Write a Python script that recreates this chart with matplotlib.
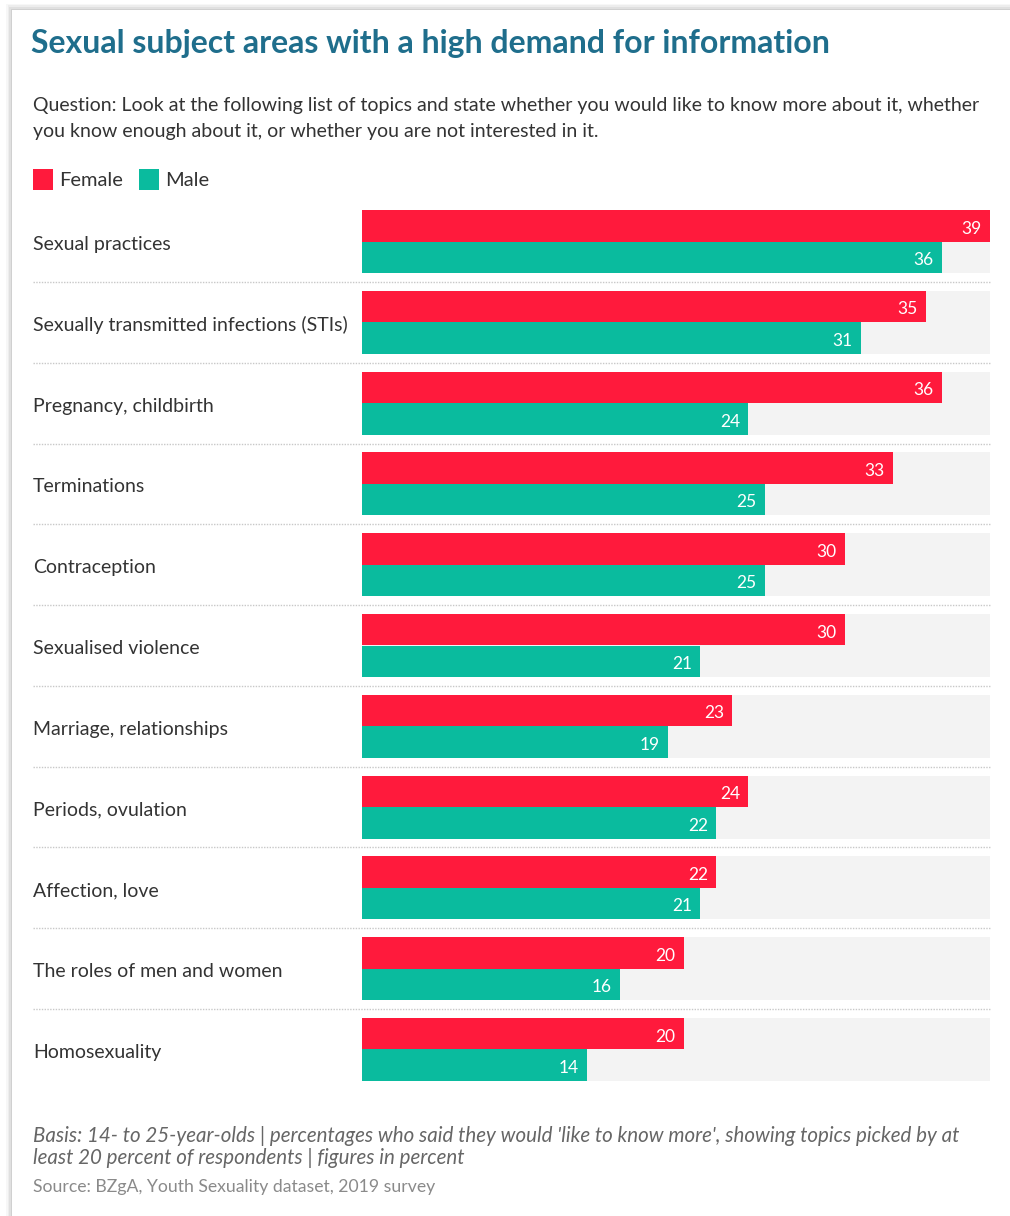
import numpy as np
import matplotlib.pyplot as plt
from matplotlib.patches import Rectangle
from matplotlib.transforms import blended_transform_factory, offset_copy

# Data (percent who would "like to know more")
categories = [
    "Sexual practices",
    "Sexually transmitted infections (STIs)",
    "Pregnancy, childbirth",
    "Terminations",
    "Contraception",
    "Sexualised violence",
    "Marriage, relationships",
    "Periods, ovulation",
    "Affection, love",
    "The roles of men and women",
    "Homosexuality",
]
female = [39, 35, 36, 33, 30, 30, 23, 24, 22, 20, 20]
male = [36, 31, 24, 25, 25, 21, 19, 22, 21, 16, 14]

RED = "#ff1a3c"
TEAL = "#0abb9e"
BG = "#f3f3f3"
TXT = "#333333"

W, H = 1010, 1216
fig = plt.figure(figsize=(W / 100, H / 100), dpi=100)
plt.rcParams["font.family"] = ["Lato", "DejaVu Sans"]


def fx(x):
    return x / W


def fy(y):
    return 1 - y / H


# card with soft shadow
for i, a in enumerate([0.03, 0.04, 0.05, 0.07]):
    d = 6 - i * 1.5
    fig.patches.append(Rectangle((fx(12 - d), fy(H + 20)), fx(W + 40), fy(10 - d) - fy(H + 20),
                                 transform=fig.transFigure, facecolor="black", alpha=a,
                                 edgecolor="none", zorder=0))
fig.patches.append(Rectangle((fx(12), fy(H + 20)), fx(W + 40), fy(10) - fy(H + 20),
                             transform=fig.transFigure, facecolor="white",
                             edgecolor="none", zorder=1))

# axes area for bars
top_px, bot_px = 210, 1081
ax = fig.add_axes([fx(362), fy(bot_px), fx(990) - fx(362), fy(top_px) - fy(bot_px)])
ax.set_zorder(2)
ax.patch.set_visible(False)

n = len(categories)
y = np.arange(n)
bh = 0.39
ax.set_xlim(0, 39)
ax.set_ylim(n - 1 + bh, -bh)

for yi in y:
    ax.axhspan(yi - bh, yi + bh, xmin=0, xmax=1, color=BG, lw=0, zorder=0)

ax.barh(y - bh / 2, female, height=bh, color=RED, zorder=2)
ax.barh(y + bh / 2, male, height=bh, color=TEAL, zorder=2)

for yi, f, m in zip(y, female, male):
    ax.annotate(str(f), (f, yi - bh / 2), xytext=(-6, -2), textcoords="offset points",
                ha="right", va="center", color="white", fontsize=12.5, zorder=3)
    ax.annotate(str(m), (m, yi + bh / 2), xytext=(-6, -2), textcoords="offset points",
                ha="right", va="center", color="white", fontsize=12.5, zorder=3)

# dotted separators between groups, extending under the labels
for yi in y[:-1]:
    ax.axhline(yi + 0.5, xmin=(33 - 362) / 628, xmax=1, color="#c8c8c8",
               linestyle=(0, (1, 1)), lw=1, clip_on=False, zorder=1)

# category labels on the left
lab_tr = offset_copy(blended_transform_factory(fig.transFigure, ax.transData),
                     fig=fig, y=-3, units="dots")
for yi, c in zip(y, categories):
    ax.text(fx(33), yi, c, transform=lab_tr, ha="left", va="center",
            fontsize=14, color=TXT)

ax.set_xticks([])
ax.set_yticks([])
for s in ax.spines.values():
    s.set_visible(False)

# title, question, legend
fig.text(fx(31), fy(44), "Sexual subject areas with a high demand for information",
         fontsize=23, fontweight="bold", color="#1f6e8c", va="center", ha="left",
         zorder=3)
fig.text(fx(33), fy(105), "Question: Look at the following list of topics and state whether you would like to know more about it, whether",
         fontsize=14, color=TXT, va="center", ha="left", zorder=3)
fig.text(fx(33), fy(132), "you know enough about it, or whether you are not interested in it.",
         fontsize=14, color=TXT, va="center", ha="left", zorder=3)

for x0, col, name in [(33, RED, "Female"), (139, TEAL, "Male")]:
    fig.patches.append(Rectangle((fx(x0), fy(190)), fx(20), fy(169) - fy(190),
                                 transform=fig.transFigure, facecolor=col,
                                 edgecolor="none", zorder=3))
    fig.text(fx(x0 + 26), fy(180), name, fontsize=14.5, color=TXT,
             va="center", ha="left", zorder=3)

# footer
fig.text(fx(33), fy(1136), "Basis: 14- to 25-year-olds | percentages who said they would 'like to know more', showing topics picked by at",
         fontsize=14.8, style="italic", color="#666666", va="center", ha="left", zorder=3)
fig.text(fx(33), fy(1158), "least 20 percent of respondents | figures in percent",
         fontsize=14.8, style="italic", color="#666666", va="center", ha="left", zorder=3)
fig.text(fx(33), fy(1187), "Source: BZgA, Youth Sexuality dataset, 2019 survey",
         fontsize=12.7, color="#8a8a8a", va="center", ha="left", zorder=3)

fig.savefig("out.png", dpi=100, facecolor="white")
